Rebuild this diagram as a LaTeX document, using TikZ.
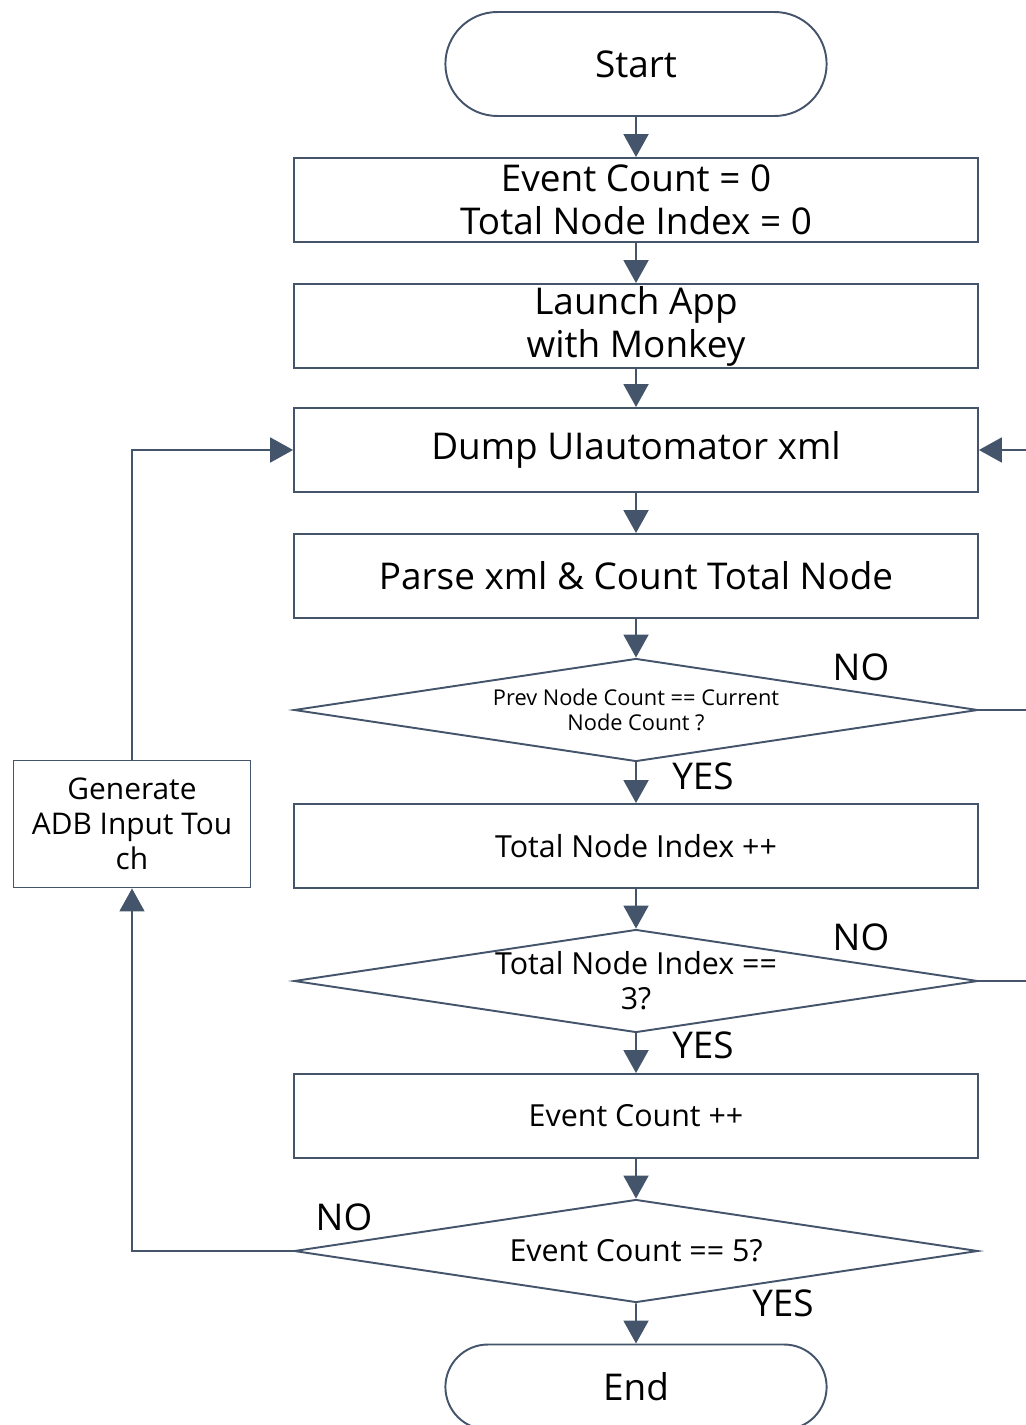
\documentclass[tikz,border=0pt]{standalone}
\usepackage{fontspec}
\setmainfont{Open Sans}
\usepackage{tikz}
\usetikzlibrary{positioning}
\usetikzlibrary{arrows.meta,shapes}
\usetikzlibrary{calc}
\definecolor{flowline}{RGB}{68,84,106}

\begin{document}
\begin{tikzpicture}
  [x=0.02cm, y=-0.02cm,
  every node/.style={text=black},
  terminal/.style={rounded rectangle,draw=flowline,line width=1.1pt,minimum width=7.86cm,minimum height=2.08cm,font=\fontsize{21}{24.5}\selectfont},
  bigbox/.style={rectangle,draw=flowline,line width=1.1pt,inner sep=0pt,minimum width=13.68cm,minimum height=1.68cm,align=center,font=\fontsize{21}{24.5}\selectfont},
  midbox/.style={bigbox,font=\fontsize{17.3}{20}\selectfont},
  decision/.style={diamond,draw=flowline,line width=1.1pt,minimum width=13.68cm,minimum height=2.06cm,inner sep=0pt},
  answer/.style={font=\fontsize{21}{24}\selectfont},
  flow/.style={flowline,line width=1.1pt,arrows = {-Triangle[width=0.5cm,length=0.46cm]}}]
  \useasboundingbox (0,0) rectangle (1025,1425);

  \node[terminal] (start) at (636,64) {Start};
  \node[bigbox] (init) at (636,200) {Event Count = 0\\Total Node Index = 0};
  \node[bigbox] (launch) at (636,326) {Launch App\\with Monkey};
  \node[bigbox] (dump) at (636,450) {Dump UIautomator xml};
  \node[bigbox] (parse) at (636,576) {Parse xml \& Count Total Node};
  \node[decision,label={[align=center,font=\fontsize{12.4}{14.5}\selectfont]center:Prev Node Count == Current\\Node Count ?}] (cmp) at (636,710) {};
  \node[midbox] (incidx) at (636,846) {Total Node Index ++};
  \node[decision,label={[align=center,font=\fontsize{17.3}{20}\selectfont]center:Total Node Index ==\\3?}] (idx) at (636,981) {};
  \node[midbox] (incevt) at (636,1116) {Event Count ++};
  \node[decision,label={[font=\fontsize{17.3}{20}\selectfont]center:Event Count == 5?}] (evt) at (636,1251) {};
  \node[terminal,minimum height=1.7cm] (end) at (636,1387) {End};

  \node[rectangle,draw=flowline,line width=1.1pt,inner sep=0pt,minimum width=4.74cm,minimum height=2.54cm,align=center,font=\fontsize{17}{19.8}\selectfont] (touch) at (132,824) {Generate\\ADB Input Tou\\ch};

  % answers
  \node[answer] (no1) at (861,667) {NO};
  \node[answer] (yes1) at (703,776) {YES};
  \node[answer] (no2) at (861,937) {NO};
  \node[answer] (yes2) at (703,1045) {YES};
  \node[answer] (no3) at (344,1217) {NO};
  \node[answer] (yes3) at (783,1303) {YES};

  % main line
  \draw[flow] (start) -- (init);
  \draw[flow] (init) -- (launch);
  \draw[flow] (launch) -- (dump);
  \draw[flow] (dump) -- (parse);
  \draw[flow] (parse) -- (cmp);
  \draw[flow] (cmp) -- (incidx);
  \draw[flow] (incidx) -- (idx);
  \draw[flow] (idx) -- (incevt);
  \draw[flow] (incevt) -- (evt);
  \draw[flow] (evt) -- (end);

  % loops
  \coordinate (back) at (1030,450);
  \coordinate (out1) at (1030,710);
  \coordinate (out2) at (1030,981);
  \draw[flow] (back) -- (dump.east);
  \draw[flowline,line width=1.1pt] (cmp.east) -- (out1);
  \draw[flowline,line width=1.1pt] (idx.east) -- (out2);
  \draw[flow] (evt.west) -| (touch.south);
  \draw[flow] (touch.north) |- (dump.west);

\end{tikzpicture}
\end{document}
